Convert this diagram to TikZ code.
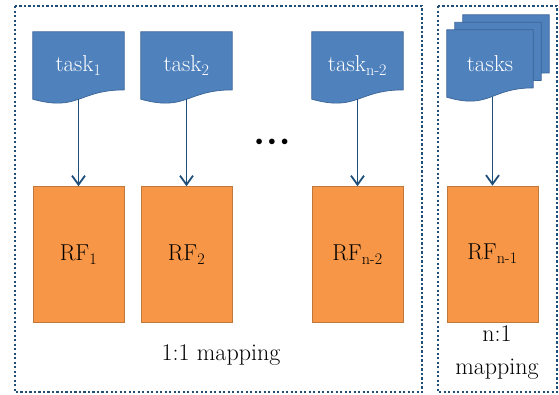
\documentclass[tikz,border=0pt]{standalone}
\usetikzlibrary{positioning, arrows.meta, backgrounds}
\definecolor{taskblue}{HTML}{4F81BD}
\definecolor{taskedge}{HTML}{3A6496}
\definecolor{rforange}{HTML}{F79646}
\definecolor{rfedge}{HTML}{C0783A}
\definecolor{framecol}{HTML}{1F4E79}

\begin{document}
\begin{tikzpicture}[
      x=1pt, y=1pt,
      >={Straight Barb[length=9pt,width=13pt]},
      frame/.style={draw=framecol, line width=2.6pt, dash pattern=on 2.2pt off 2.3pt},
      taskbox/.style={minimum width=91pt, minimum height=67pt, inner sep=0pt, text=white, font=\fontsize{23}{27}\selectfont},
      taskdoc/.style={fill=taskblue, draw=taskedge, line width=0.7pt},
      rfbox/.style={draw=rfedge, fill=rforange, line width=0.7pt, minimum width=91pt, minimum height=136pt, inner sep=0pt, font=\fontsize{23}{27}\selectfont},
      link/.style={->, draw=framecol, line width=1.8pt},
      caption/.style={font=\fontsize{24}{33}\selectfont, align=center}
    ]
    \useasboundingbox (0,0) rectangle (559,-394);
    \newcommand\taskdoc[3]{%
      \filldraw[taskdoc] ([shift={(#2,#3)}]#1.north west) -- ([shift={(#2,#3)}]#1.north east)
      -- ([shift={(#2,#3+9.3)}]#1.south east)
      .. controls ([shift={(#2,#3+9.3)}]#1.south) and ([shift={(#2,#3-12.7)}]#1.south) ..
      ([shift={(#2,#3)}]#1.south west) -- cycle;}
    \node[taskbox] (t1) at (78.5,-65.5) {task\textsubscript{1}};
    \node[taskbox] (t2) at (186.5,-65.5) {task\textsubscript{2}};
    \node[taskbox] (tn2) at (357.5,-65.5) {task\textsubscript{n-2}};
    \node[taskbox, minimum width=86pt] (tasks) at (490,-63.5) {tasks};
    \node[rfbox, below=87pt of t1] (r1) {RF\textsubscript{1}};
    \node[rfbox, below=87pt of t2] (r2) {RF\textsubscript{2}};
    \node[rfbox, below=87pt of tn2] (rn2) {RF\textsubscript{n-2}};
    \node[rfbox] (rn1) at (492.5,-254) {RF\textsubscript{n-1}};
    \node[font=\fontsize{14}{16}\selectfont] (dots) at (272,-142) {${\bullet}\kern5.5pt{\bullet}\kern5.5pt{\bullet}$};
    \node[caption] (one) at (221,-355) {1:1 mapping};
    \node[caption] (many) at (497,-353) {n:1\\mapping};
    \draw[link] (t1) -- (r1);
    \draw[link] (t2) -- (r2);
    \draw[link] (tn2) -- (rn2);
    \draw[link] (tasks.south -| rn1) -- (rn1);
    \begin{scope}[on background layer]
      \draw[frame] (15,-6) rectangle (422,-392);
      \draw[frame] (438,-6) rectangle (557,-392);
      \taskdoc{tasks}{16}{15}
      \taskdoc{tasks}{8}{7.5}
      \taskdoc{tasks}{0}{0}
      \taskdoc{t1}{0}{0}
      \taskdoc{t2}{0}{0}
      \taskdoc{tn2}{0}{0}
    \end{scope}
  \end{tikzpicture}
\end{document}
